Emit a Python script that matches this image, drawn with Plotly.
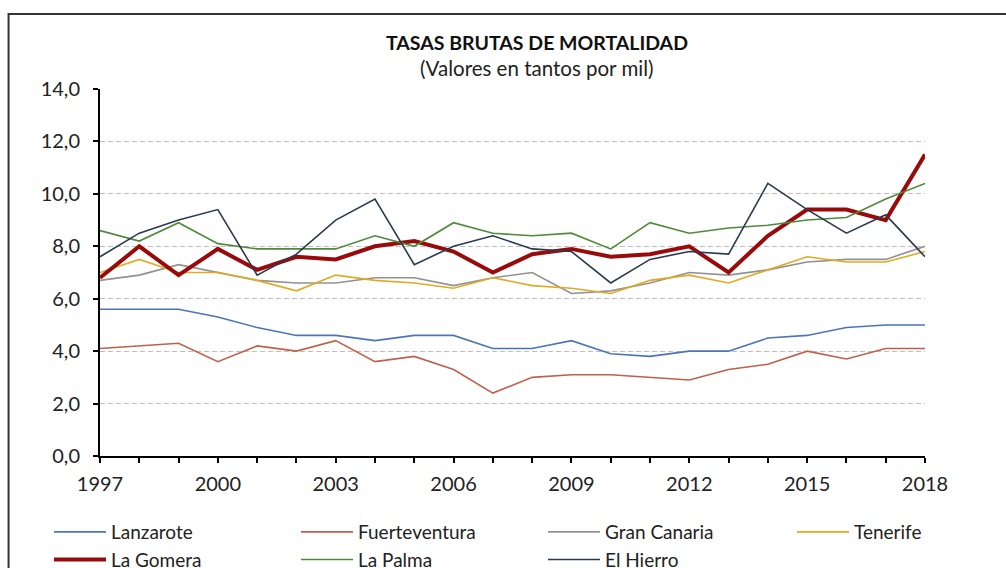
import plotly.graph_objects as go

years = list(range(1997, 2019))

lanzarote = [5.6, 5.6, 5.6, 5.3, 4.9, 4.6, 4.6, 4.4, 4.6, 4.6, 4.1, 4.1, 4.4, 3.9, 3.8, 4.0, 4.0, 4.5, 4.6, 4.9, 5.0, 5.0]
fuerteventura = [4.1, 4.2, 4.3, 3.6, 4.2, 4.0, 4.4, 3.6, 3.8, 3.3, 2.4, 3.0, 3.1, 3.1, 3.0, 2.9, 3.3, 3.5, 4.0, 3.7, 4.1, 4.1]
gran_canaria = [6.7, 6.9, 7.3, 7.0, 6.7, 6.6, 6.6, 6.8, 6.8, 6.5, 6.8, 7.0, 6.2, 6.3, 6.6, 7.0, 6.9, 7.1, 7.4, 7.5, 7.5, 8.0]
tenerife = [7.0, 7.5, 7.0, 7.0, 6.7, 6.3, 6.9, 6.7, 6.6, 6.4, 6.8, 6.5, 6.4, 6.2, 6.7, 6.9, 6.6, 7.1, 7.6, 7.4, 7.4, 7.8]
la_gomera = [6.8, 8.0, 6.9, 7.9, 7.1, 7.6, 7.5, 8.0, 8.2, 7.8, 7.0, 7.7, 7.9, 7.6, 7.7, 8.0, 7.0, 8.4, 9.4, 9.4, 9.0, 11.5]
la_palma = [8.6, 8.2, 8.9, 8.1, 7.9, 7.9, 7.9, 8.4, 8.0, 8.9, 8.5, 8.4, 8.5, 7.9, 8.9, 8.5, 8.7, 8.8, 9.0, 9.1, 9.8, 10.4]
el_hierro = [7.6, 8.5, 9.0, 9.4, 6.9, 7.7, 9.0, 9.8, 7.3, 8.0, 8.4, 7.9, 7.8, 6.6, 7.5, 7.8, 7.7, 10.4, 9.4, 8.5, 9.2, 7.6]

series_names = ["Lanzarote", "Fuerteventura", "Gran Canaria", "Tenerife", "La Gomera", "La Palma", "El Hierro"]
series_values = [lanzarote, fuerteventura, gran_canaria, tenerife, la_gomera, la_palma, el_hierro]
series_colors = ["#4A76B8", "#C0604A", "#929292", "#E2AA22", "#9A0A0A", "#4E8A3A", "#2B3A4F"]
series_widths = [1.6, 1.6, 1.6, 1.6, 4, 1.6, 1.6]
# legend column for each series (legend laid out as 4 columns x 2 rows)
series_legend = ["legend", "legend2", "legend3", "legend4", "legend", "legend2", "legend3"]

x_tickvals = [1997, 2000, 2003, 2006, 2009, 2012, 2015, 2018]
y_tickvals = [0, 2, 4, 6, 8, 10, 12, 14]

FONT = "Lato, 'Open Sans', sans-serif"
TXT = "#222222"

fig = go.Figure()
for name, vals, col, w, lg in zip(series_names, series_values, series_colors, series_widths, series_legend):
    fig.add_trace(go.Scatter(x=years, y=vals, mode="lines", name=name, legend=lg,
                             line=dict(color=col, width=w)))

W, H = 1006, 568
L, R, T, B = 100, 925.5, 89, 456.5

ITEMW = 52
legend_text_x = [111, 358, 605, 854]
legend_top = 513


def legend_cfg(textx):
    return dict(orientation="v", xref="container", yref="container",
                x=(textx - ITEMW - 10) / W, y=1 - legend_top / H, xanchor="left", yanchor="top",
                itemwidth=ITEMW,
                font=dict(family=FONT, size=19, color=TXT), tracegroupgap=0,
                bgcolor="rgba(0,0,0,0)", traceorder="normal")


fig.update_layout(
    width=W, height=H,
    margin=dict(l=L, r=W - R, t=T, b=H - B, autoexpand=False),
    paper_bgcolor="white", plot_bgcolor="white",
    separators=",.",
    font=dict(family=FONT, size=20, color=TXT),
    showlegend=True,
    legend=legend_cfg(legend_text_x[0]),
    legend2=legend_cfg(legend_text_x[1]),
    legend3=legend_cfg(legend_text_x[2]),
    legend4=legend_cfg(legend_text_x[3]),
    xaxis=dict(range=[1997, 2018], tickmode="array", tickvals=x_tickvals,
               ticktext=[str(v) for v in x_tickvals],
               showgrid=False, zeroline=False,
               showline=True, linecolor="black", linewidth=2,
               ticks="outside", ticklen=5, tickwidth=2, tickcolor="black",
               minor=dict(dtick=1, tick0=1997, ticks="outside", ticklen=5, tickwidth=2,
                          tickcolor="black", showgrid=False),
               ticklabelstandoff=4,
               tickfont=dict(size=20), fixedrange=True),
    yaxis=dict(range=[0, 14], tickmode="array", tickvals=y_tickvals, tickformat=".1f",
               showgrid=True, gridcolor="#BFBFBF", gridwidth=1, griddash="5px,3px",
               zeroline=False, showline=True, linecolor="black", linewidth=2,
               ticks="outside", ticklen=5, tickwidth=2, tickcolor="black",
               ticklabelstandoff=9,
               tickfont=dict(size=20), fixedrange=True),
)

plot_h = B - T
plot_w = R - L
fig.add_annotation(text="<b>TASAS BRUTAS DE MORTALIDAD</b>", xref="paper", yref="paper",
                   x=(537 - L) / plot_w, y=(B - 42.5) / plot_h, xanchor="center", yanchor="middle",
                   showarrow=False, font=dict(family=FONT, size=19.5, color="#111111"))
fig.add_annotation(text="(Valores en tantos por mil)", xref="paper", yref="paper",
                   x=(537 - L) / plot_w, y=(B - 68) / plot_h, xanchor="center", yanchor="middle",
                   showarrow=False, font=dict(family=FONT, size=20.5, color=TXT))

# outer chart frame (top and left edges visible, rest cropped)
fig.add_shape(type="rect", xref="paper", yref="paper",
              x0=(8.5 - L) / plot_w, x1=(1030 - L) / plot_w,
              y0=(B - 600) / plot_h, y1=(B - 14) / plot_h,
              line=dict(color="#333333", width=2), fillcolor="rgba(0,0,0,0)", layer="below")

# remove the browser's default 8px page margin so the figure sits at the window origin
fig.write_html("out.html",
               config={"displayModeBar": False, "staticPlot": True},
               post_script="document.body.style.margin='0';document.body.style.overflow='hidden';")
